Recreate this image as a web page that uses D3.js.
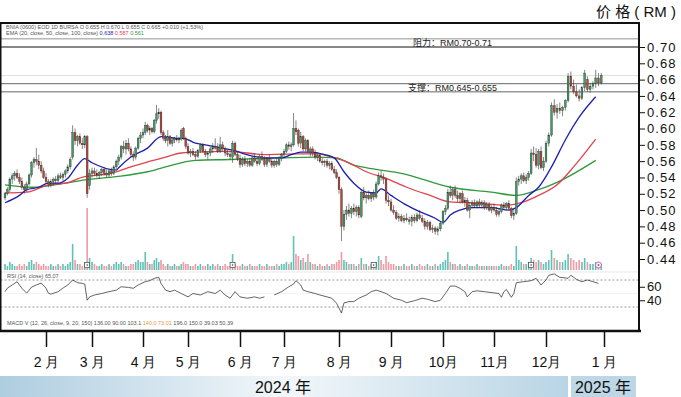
<!DOCTYPE html>
<html>
<head>
<meta charset="utf-8">
<title>价格走势</title>
<script src="https://cdnjs.cloudflare.com/ajax/libs/d3/7.8.5/d3.min.js"></script>
<style>
    body { margin: 0; background: #fff; }
    svg { display: block; font-family: "Liberation Sans", Arial, "Noto Sans CJK SC", sans-serif; }
    .tiny { font-size: 5.5px; fill: #555; }
</style>
</head>
<body>
<svg id="chart" width="681" height="397"></svg>
<script>
// month ticks: label + index of first trading day of that month
const monthLabels = ["2 月", "3 月", "4 月", "5 月", "6 月", "7 月", "8 月", "9 月", "10月", "11月", "12月", "1 月"];
const monthStart = [17, 36, 57, 77, 98, 116, 139, 160, 180, 201, 222, 243];

// daily candles [open, high, low, close], Jan 2024 -> Dec 2024
const candles = [
    // Jan
    [.515,.522,.512,.520],[.520,.528,.518,.525],[.525,.540,.522,.538],[.538,.545,.532,.542],[.542,.548,.536,.545],
    [.545,.550,.538,.540],[.540,.545,.532,.535],[.535,.540,.525,.528],[.528,.532,.520,.525],[.525,.535,.522,.532],
    [.532,.545,.530,.543],[.543,.560,.540,.558],[.558,.565,.552,.562],[.562,.576,.555,.560],[.560,.568,.550,.555],
    [.555,.560,.545,.548],[.548,.552,.538,.540],
    // Feb
    [.540,.545,.532,.535],[.535,.538,.528,.532],[.532,.538,.528,.535],[.535,.540,.530,.538],[.538,.542,.532,.536],
    [.536,.545,.534,.542],[.542,.546,.538,.540],[.540,.546,.536,.544],[.544,.550,.540,.548],[.548,.556,.545,.553],
    [.553,.565,.550,.562],[.565,.604,.562,.595],[.595,.600,.580,.585],[.585,.592,.578,.590],[.590,.594,.580,.582],
    [.582,.588,.575,.580],[.580,.592,.576,.590],[.590,.592,.515,.520],[.530,.550,.525,.545],
    // Mar
    [.545,.552,.540,.548],[.548,.552,.542,.545],[.545,.550,.540,.543],[.543,.548,.538,.546],[.546,.552,.542,.550],
    [.550,.553,.542,.545],[.545,.550,.540,.543],[.543,.550,.540,.548],[.548,.552,.542,.545],[.545,.555,.543,.553],
    [.553,.562,.550,.560],[.560,.568,.555,.565],[.565,.580,.562,.578],[.578,.585,.570,.575],[.575,.586,.568,.582],
    [.582,.588,.572,.575],[.575,.578,.565,.568],[.568,.572,.560,.565],[.565,.578,.562,.576],[.576,.590,.574,.588],
    [.588,.596,.582,.592],
    // Apr
    [.592,.600,.588,.595],[.595,.608,.592,.604],[.604,.606,.595,.598],[.598,.603,.592,.600],[.600,.602,.594,.596],
    [.596,.612,.594,.610],[.610,.629,.606,.618],[.618,.625,.612,.620],[.620,.622,.592,.595],[.595,.598,.585,.588],
    [.588,.592,.582,.585],[.585,.598,.578,.590],[.590,.592,.580,.582],[.582,.588,.578,.586],[.586,.590,.582,.588],
    [.588,.592,.584,.586],[.586,.590,.582,.587],[.587,.600,.585,.598],[.600,.602,.586,.588],[.588,.590,.575,.578],
    // May
    [.578,.582,.568,.570],[.570,.575,.565,.572],[.572,.576,.566,.568],[.568,.572,.562,.566],[.566,.575,.564,.573],
    [.573,.582,.570,.580],[.580,.582,.570,.572],[.572,.575,.565,.568],[.568,.572,.562,.570],[.570,.578,.566,.575],
    [.575,.582,.570,.578],[.578,.588,.574,.576],[.576,.582,.570,.572],[.572,.590,.570,.580],[.580,.584,.572,.575],
    [.575,.578,.566,.570],[.570,.574,.565,.568],[.568,.572,.562,.566],[.565,.585,.558,.582],[.582,.584,.566,.568],
    [.568,.572,.560,.563],
    // Jun
    [.563,.568,.552,.556],[.556,.565,.553,.562],[.562,.566,.554,.557],[.557,.563,.553,.560],[.560,.564,.553,.555],
    [.555,.566,.553,.564],[.564,.570,.558,.560],[.560,.565,.554,.557],[.557,.568,.555,.566],[.566,.572,.560,.562],
    [.562,.566,.553,.556],[.556,.565,.553,.563],[.563,.568,.558,.560],[.560,.563,.552,.555],[.555,.562,.552,.560],
    [.560,.564,.553,.556],[.556,.566,.554,.564],[.564,.570,.560,.568],
    // Jul
    [.568,.575,.565,.572],[.572,.582,.570,.580],[.580,.584,.574,.578],[.578,.583,.572,.580],[.580,.619,.578,.600],
    [.600,.610,.592,.596],[.598,.600,.578,.582],[.582,.596,.576,.590],[.590,.592,.572,.575],[.575,.588,.572,.585],
    [.585,.587,.570,.572],[.572,.578,.566,.575],[.575,.578,.566,.570],[.570,.574,.562,.565],[.565,.570,.560,.567],
    [.567,.570,.558,.560],[.560,.564,.555,.558],[.558,.562,.553,.560],[.560,.563,.552,.555],[.555,.560,.550,.557],
    [.557,.560,.548,.550],[.550,.554,.544,.546],[.546,.550,.538,.540],
    // Aug
    [.540,.542,.520,.525],[.525,.528,.462,.480],[.480,.500,.475,.495],[.495,.505,.488,.500],[.500,.508,.492,.496],
    [.496,.505,.490,.502],[.502,.508,.494,.498],[.498,.506,.492,.503],[.503,.506,.490,.494],[.492,.526,.490,.522],
    [.522,.528,.512,.515],[.515,.522,.508,.518],[.518,.524,.512,.514],[.514,.522,.510,.520],[.520,.525,.512,.516],
    [.516,.535,.514,.532],[.532,.546,.530,.542],[.542,.548,.536,.540],[.540,.545,.532,.538],[.538,.540,.508,.512],
    [.512,.518,.505,.510],
    // Sep
    [.510,.514,.498,.500],[.500,.506,.494,.497],[.497,.500,.488,.490],[.490,.496,.486,.492],[.492,.495,.485,.487],
    [.487,.494,.484,.490],[.490,.496,.486,.488],[.488,.492,.482,.486],[.486,.494,.480,.491],[.491,.495,.484,.487],
    [.487,.497,.485,.494],[.494,.500,.488,.490],[.490,.494,.484,.486],[.486,.490,.476,.480],[.480,.488,.476,.485],
    [.485,.487,.474,.476],[.476,.482,.472,.478],[.478,.480,.470,.474],[.474,.480,.469,.477],[.477,.486,.474,.484],
    // Oct
    [.484,.500,.482,.498],[.498,.506,.494,.502],[.502,.526,.500,.522],[.522,.530,.515,.518],[.518,.528,.512,.525],
    [.525,.530,.515,.518],[.518,.524,.510,.514],[.514,.522,.508,.520],[.520,.524,.508,.510],[.510,.516,.504,.512],
    [.512,.515,.498,.500],[.500,.510,.490,.506],[.506,.512,.502,.508],[.508,.513,.503,.505],[.505,.512,.502,.510],
    [.510,.514,.503,.506],[.506,.512,.502,.509],[.509,.512,.500,.503],[.503,.510,.500,.507],[.507,.510,.498,.500],
    [.500,.506,.496,.503],
    // Nov
    [.503,.508,.498,.500],[.500,.504,.492,.495],[.495,.502,.492,.498],[.498,.508,.496,.506],[.506,.510,.500,.503],
    [.503,.510,.500,.508],[.508,.512,.500,.502],[.502,.504,.490,.493],[.493,.500,.488,.496],[.496,.540,.494,.535],
    [.535,.542,.530,.538],[.538,.545,.532,.542],[.542,.546,.534,.536],[.536,.544,.532,.540],[.540,.548,.536,.545],
    [.545,.575,.543,.570],[.570,.578,.560,.568],[.568,.576,.552,.555],[.555,.575,.550,.572],[.572,.578,.550,.552],
    [.552,.565,.548,.560],
    // Dec
    [.560,.585,.558,.582],[.582,.595,.578,.592],[.592,.632,.590,.628],[.628,.636,.616,.620],[.620,.630,.612,.625],
    [.625,.632,.618,.622],[.622,.628,.615,.626],[.626,.636,.622,.634],[.634,.668,.632,.664],[.664,.670,.648,.652],
    [.652,.660,.642,.645],[.645,.654,.638,.640],[.640,.648,.633,.637],[.637,.652,.635,.650],[.650,.672,.646,.668],
    [.660,.664,.645,.648],[.648,.656,.644,.652],[.652,.658,.648,.655],[.655,.672,.650,.662],[.662,.668,.652,.656],
    [.656,.668,.654,.665]
];

// daily volume (relative units)
const volume = [
    3,2,4,3,2,2,3,2,3,2,4,5,3,4,3,2,3,
    2,2,3,2,2,3,2,3,2,3,4,13,5,3,3,2,4,31,6,
    4,3,2,2,3,2,2,3,2,3,4,3,4,3,2,2,3,3,4,5,4,
    4,9,4,3,3,5,6,4,5,3,2,3,2,2,3,2,2,3,4,3,
    3,2,2,3,2,3,2,2,3,2,3,2,3,2,2,3,2,2,8,3,2,
    2,3,2,2,3,2,2,2,3,2,2,3,2,2,2,3,2,3,
    3,4,3,4,17,8,7,5,6,4,8,4,3,3,2,3,2,2,3,2,3,3,4,
    5,9,5,4,3,3,3,2,3,6,3,3,2,3,2,4,7,5,3,7,4,
    3,3,2,2,2,3,2,2,3,2,2,3,2,2,3,2,2,3,2,3,
    4,5,9,4,3,3,2,3,2,2,3,2,2,2,3,2,2,2,2,2,2,
    2,2,2,3,2,2,2,3,2,12,5,4,3,3,4,6,5,4,5,4,3,
    4,5,10,6,5,4,4,5,8,6,5,4,5,4,6,4,3,3,4,3,3
];

// moving averages: [day index, value]
const emaFast = [[0,.509],[6,.518],[9,.525],[14,.528],[18,.533],[22,.533],[26,.539],[30,.555],[33,.563],[36,.558],
    [46,.549],[47,.552],[52,.565],[59,.576],[65,.590],[72,.588],[75,.588],[80,.582],[84,.580],[94,.574],[108,.564],
    [115,.564],[119,.568],[123,.571],[127,.571],[133,.568],[137,.564],[141,.547],[145,.533],[150,.522],[154,.521],
    [156,.526],[160,.518],[166,.506],[171,.498],[177,.490],[180,.485],[183,.494],[187,.500],[192,.503],[200,.503],
    [207,.500],[210,.503],[215,.518],[219,.528],[224,.553],[229,.586],[234,.614],[240,.639]];
const emaMid = [[0,.521],[9,.522],[18,.531],[25,.533],[33,.541],[39,.543],[46,.547],[52,.553],[59,.559],[67,.565],
    [74,.570],[80,.571],[94,.572],[108,.568],[122,.569],[130,.569],[136,.565],[143,.558],[150,.547],[158,.539],
    [166,.528],[175,.518],[183,.510],[192,.509],[206,.506],[212,.509],[219,.518],[226,.531],[232,.553],[240,.587]];
const emaSlow = [[0,.531],[11,.528],[25,.533],[33,.537],[46,.541],[59,.547],[67,.553],[80,.561],[94,.562],
    [115,.564],[129,.565],[138,.564],[145,.555],[154,.550],[164,.545],[183,.528],[200,.522],[210,.518],
    [219,.525],[226,.534],[240,.561]];

// RSI(14): [day index, value]
const rsi = [[0,52.7],[1,58],[3,62.6],[5,67.5],[7,57.7],[9,50.5],[11,59.5],[13,62.6],[15,65.5],[17,58],[18,50.4],
    [19,49],[22,52.7],[24,58],[26,62.6],[28,70],[30,66],[32,65],[33,64],[34,40],[35,45],[37,47.8],[40,50],[43,52.7],
    [46,55],[48,60],[51,59],[53,57.7],[55,62.6],[58,67.5],[60,69],[62,72.5],[64,74],[65,65],[67,55],[69,52.7],
    [71,55],[74,50],[77,45],[79,50],[82,47.8],[85,52.7],[88,50],[90,55],[92,47.8],[94,43],[96,52.7],[98,45],
    [101,43],[104,45],[106,43],[108,45],null,[112,47.8],[115,52.7],[118,60],[120,64],[121,69],[123,62.6],[124,55],
    [126,52.7],[129,50],[131,47.8],[134,45],[136,43],[138,35.5],[140,21],[141,36],[143,38],[145,38],[147,43],
    [150,47.8],[152,52.7],[154,55],[156,52.7],[158,50],[159,47.8],[161,43],[164,40],[166,36.4],[169,39.3],
    [172,43],[174,41.5],[177,38],[179,40],[181,50],[183,61],[185,61],[187,57.7],[189,52.7],[190,45],[192,52.7],
    [194,54],[197,52.7],[203,50],[204,44.4],[205,52.7],[206,56],[208,44.4],[209,50],[210,66],[213,67.5],
    [216,69],[218,72.5],[220,62.6],[222,70],[223,77],[225,79],[227,74],[230,72.5],[231,77],[233,71],[235,67.5],
    [237,70],[239,67.5],[241,65]];

const priceTicks = [0.44, 0.46, 0.48, 0.50, 0.52, 0.54, 0.56, 0.58, 0.60, 0.62, 0.64, 0.66, 0.68, 0.70];
const rsiTicks = [40, 60];
const resistance = [0.70, 0.71];
const support = [0.645, 0.655];
const lastPrice = 0.665;
const eventDays = [34, 95, 153, 216];
const exDay = 241;

const svg = d3.select("#chart");
const frame = { left: 0.5, right: 639, top: 23, bottom: 331 };

// x: piecewise linear so that month ticks land where the reference puts them
const x = d3.scaleLinear()
    .domain([0, ...monthStart])
    .range([5, 46, 92, 143, 188, 240, 284, 339, 391, 443, 494, 546, 604]);
const y = d3.scaleLinear().domain([0.44, 0.70]).range([259, 47]);
const yVol = d3.scaleLinear().domain([0, 31]).range([270, 208]);
const yRsi = d3.scaleLinear().domain([30, 70]).range([307, 280]);

const defs = svg.append("defs");
const grad = defs.append("linearGradient").attr("id", "band");
grad.append("stop").attr("offset", "0%").attr("stop-color", "#aecde0");
grad.append("stop").attr("offset", "50%").attr("stop-color", "#f2f7fa");
grad.append("stop").attr("offset", "100%").attr("stop-color", "#b9d5e5");

// reference lines
svg.append("line").attr("x1", frame.left).attr("x2", frame.right)
    .attr("y1", y(resistance[1])).attr("y2", y(resistance[1]))
    .attr("stroke", "#777").attr("stroke-width", 0.8);
svg.append("line").attr("x1", frame.left).attr("x2", frame.right)
    .attr("y1", y(resistance[0])).attr("y2", y(resistance[0]))
    .attr("stroke", "#111").attr("stroke-width", 1.2);
svg.append("line").attr("x1", frame.left).attr("x2", frame.right)
    .attr("y1", y(lastPrice)).attr("y2", y(lastPrice))
    .attr("stroke", "#aaa").attr("stroke-width", 0.7).attr("stroke-dasharray", "1,1");
support.forEach(v => {
    svg.append("line").attr("x1", frame.left).attr("x2", frame.right)
        .attr("y1", y(v)).attr("y2", y(v))
        .attr("stroke", "#555").attr("stroke-width", 0.9);
});

svg.append("text").attr("x", 413).attr("y", y(resistance[0]) - 1.5)
    .attr("font-size", 9).attr("fill", "#222").text("阻力：RM0.70-0.71");
svg.append("text").attr("x", 408).attr("y", y(support[1]) + 7.5)
    .attr("font-size", 9).attr("fill", "#222").text("支撑：RM0.645-0.655");

// volume
svg.append("g").selectAll("rect")
    .data(volume)
    .join("rect")
    .attr("x", (d, i) => x(i) - 0.8)
    .attr("width", 1.6)
    .attr("y", d => yVol(d))
    .attr("height", d => yVol(0) - yVol(d))
    .attr("fill", (d, i) => candles[i][3] >= candles[i][0] ? "#5fc2b6" : "#f09aa4");

// event markers on the volume baseline
const ev = svg.append("g");
eventDays.forEach(i => {
    ev.append("rect").attr("x", x(i) - 2.5).attr("y", 262.5).attr("width", 5).attr("height", 5)
        .attr("fill", "#fff").attr("stroke", "#444").attr("stroke-width", 0.7);
    ev.append("circle").attr("cx", x(i)).attr("cy", 265).attr("r", 0.8).attr("fill", "#444");
});
ev.append("circle").attr("cx", x(exDay)).attr("cy", 265).attr("r", 3)
    .attr("fill", "#fff").attr("stroke", "#b0449a").attr("stroke-width", 0.8);
ev.append("circle").attr("cx", x(exDay)).attr("cy", 265).attr("r", 1).attr("fill", "#b0449a");

// EMAs
const emaLine = d3.line().x(d => x(d[0])).y(d => y(d[1])).curve(d3.curveMonotoneX);
[[emaSlow, "#2f9a3c"], [emaMid, "#e2424e"], [emaFast, "#1c1fb0"]].forEach(([data, c]) => {
    svg.append("path").datum(data).attr("d", emaLine)
        .attr("fill", "none").attr("stroke", c).attr("stroke-width", 1.3);
});

// candles
const cg = svg.append("g").selectAll("g")
    .data(candles)
    .join("g");
cg.append("line")
    .attr("x1", (d, i) => x(i)).attr("x2", (d, i) => x(i))
    .attr("y1", d => y(d[1])).attr("y2", d => y(d[2]))
    .attr("stroke", "#333").attr("stroke-width", 0.6);
cg.append("rect")
    .attr("x", (d, i) => x(i) - 0.9)
    .attr("width", 1.8)
    .attr("y", d => y(Math.max(d[0], d[3])))
    .attr("height", d => Math.max(0.7, Math.abs(y(d[0]) - y(d[3]))))
    .attr("fill", d => d[3] >= d[0] ? "#3f9a66" : "#b8453a")
    .attr("stroke", "#2a2a2a").attr("stroke-width", 0.35);

// RSI panel
svg.append("line").attr("x1", frame.left).attr("x2", frame.right).attr("y1", 272).attr("y2", 272)
    .attr("stroke", "#ddd").attr("stroke-width", 0.7);
svg.append("line").attr("x1", frame.left).attr("x2", frame.right).attr("y1", yRsi(50)).attr("y2", yRsi(50))
    .attr("stroke", "#eee").attr("stroke-width", 0.7);
[70, 30].forEach(v => {
    svg.append("line").attr("x1", frame.left).attr("x2", frame.right)
        .attr("y1", yRsi(v)).attr("y2", yRsi(v))
        .attr("stroke", "#555").attr("stroke-width", 0.6).attr("stroke-dasharray", "2,2");
});
const rsiLine = d3.line().defined(d => d !== null).x(d => x(d[0])).y(d => yRsi(d[1]));
svg.append("path").datum(rsi).attr("d", rsiLine)
    .attr("fill", "none").attr("stroke", "#222").attr("stroke-width", 0.7);

// small legends
svg.append("text").attr("class", "tiny").attr("x", 6).attr("y", 29)
    .text("BNIA (0600) EOD 1D BURSA   O 0.655  H 0.670  L 0.655  C 0.665  +0.010 (+1.53%)");
const leg = svg.append("text").attr("class", "tiny").attr("x", 6).attr("y", 35);
leg.append("tspan").text("EMA (20, close, 50, close, 100, close) ");
leg.append("tspan").attr("fill", "#1c1fb0").text("0.638 ");
leg.append("tspan").attr("fill", "#e2424e").text("0.587 ");
leg.append("tspan").attr("fill", "#2f9a3c").text("0.561");
svg.append("text").attr("class", "tiny").attr("x", 7).attr("y", 278).text("RSI (14, close) 65.07");
const mleg = svg.append("text").attr("class", "tiny").attr("x", 7).attr("y", 325);
mleg.append("tspan").text("MACD V (12, 26, close, 9, 20, 150)   136.00   90.00   103.1 ");
mleg.append("tspan").attr("fill", "#e8963c").text("140.0 ");
mleg.append("tspan").attr("fill", "#e8963c").text("73.01 ");
mleg.append("tspan").text("  196.0   150.0  39.03   50.39");

// frame
svg.append("path")
    .attr("d", `M${frame.left},${frame.bottom}V${frame.top}H${frame.right}V${frame.bottom}`)
    .attr("fill", "none").attr("stroke", "#111").attr("stroke-width", 2);
svg.append("line").attr("x1", 0).attr("x2", 641).attr("y1", frame.bottom).attr("y2", frame.bottom)
    .attr("stroke", "#111").attr("stroke-width", 2.5);

// right axis
const axisP = svg.append("g").attr("transform", `translate(${frame.right},0)`)
    .call(d3.axisRight(y).tickValues(priceTicks).tickFormat(d3.format(".2f")).tickSize(6).tickPadding(2));
axisP.select(".domain").remove();
axisP.selectAll("line").attr("stroke", "#111").attr("stroke-width", 1);
axisP.selectAll("text").attr("font-size", 13).attr("letter-spacing", 1.1).attr("fill", "#111")
    .attr("font-family", "\"Liberation Sans\", Arial, sans-serif");

const axisR = svg.append("g").attr("transform", `translate(${frame.right},0)`)
    .call(d3.axisRight(yRsi).tickValues(rsiTicks).tickSize(6).tickPadding(2));
axisR.select(".domain").remove();
axisR.selectAll("line").attr("stroke", "#111");
axisR.selectAll("text").attr("font-size", 12).attr("fill", "#111")
    .attr("transform", "scale(1,1.15)")
    .attr("y", function (d) { return 0; })
    .attr("font-family", "\"Liberation Sans Narrow\", \"Liberation Sans\", Arial, sans-serif");
axisR.selectAll(".tick").each(function () {
    d3.select(this).select("text").attr("transform", null).attr("font-size", 13);
});

svg.append("text").attr("x", 676).attr("y", 17).attr("text-anchor", "end")
    .attr("font-size", 15).attr("fill", "#111").text("价 格 ( RM )");

// month axis
const axisM = svg.append("g").attr("transform", `translate(0,${frame.bottom})`)
    .call(d3.axisBottom(x).tickValues(monthStart).tickSize(16).tickPadding(10)
        .tickFormat((d, i) => monthLabels[i]));
axisM.select(".domain").remove();
axisM.selectAll("line").attr("stroke", "#111").attr("stroke-width", 1.5);
axisM.selectAll("text").attr("font-size", 14).attr("fill", "#111");

// year band
svg.append("rect").attr("x", 0).attr("y", 376).attr("width", 568).attr("height", 21).attr("fill", "url(#band)");
svg.append("rect").attr("x", 571).attr("y", 376).attr("width", 65).attr("height", 21).attr("fill", "#bdd7e6");
svg.append("text").attr("x", 283).attr("y", 393).attr("text-anchor", "middle")
    .attr("font-size", 16).attr("fill", "#111").text("2024 年");
svg.append("text").attr("x", 603).attr("y", 393).attr("text-anchor", "middle")
    .attr("font-size", 16).attr("fill", "#111").text("2025 年");
</script>
</body>
</html>
